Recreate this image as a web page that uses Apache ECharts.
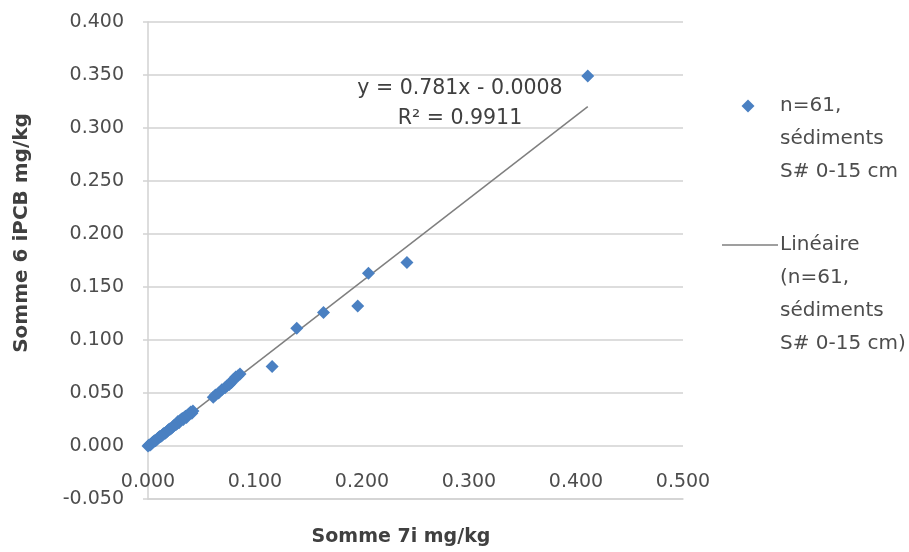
<!DOCTYPE html>
<html>
<head>
<meta charset="utf-8">
<script src="https://cdn.jsdelivr.net/npm/echarts@6/dist/echarts.min.js"></script>
<style>html,body{margin:0;padding:0;background:#fff;}#c{width:909px;height:552px;}</style>
</head>
<body>
<div id="c"></div>
<script>
// Data (Somme 7i mg/kg, Somme 6 iPCB mg/kg)
const xValues = [
  0.000, 0.001, 0.002, 0.003, 0.004, 0.005, 0.006, 0.007, 0.008, 0.009,
  0.010, 0.011, 0.012, 0.013, 0.014, 0.015, 0.016, 0.017, 0.018, 0.019,
  0.020, 0.021, 0.022, 0.023, 0.024, 0.026, 0.027, 0.028, 0.029, 0.030,
  0.031, 0.032, 0.033, 0.034, 0.035, 0.036, 0.037, 0.038, 0.039, 0.040,
  0.041, 0.042,
  0.061, 0.063, 0.066, 0.069, 0.072, 0.074, 0.076, 0.078, 0.080, 0.082,
  0.084, 0.086,
  0.116, 0.139, 0.164, 0.196, 0.206, 0.242, 0.411
];
const yValues = [
  0.000, 0.001, 0.001, 0.002, 0.003, 0.004, 0.005, 0.005, 0.006, 0.007,
  0.008, 0.009, 0.009, 0.010, 0.011, 0.012, 0.012, 0.013, 0.014, 0.015,
  0.016, 0.016, 0.017, 0.018, 0.019, 0.020, 0.021, 0.023, 0.022, 0.024,
  0.025, 0.026, 0.025, 0.027, 0.028, 0.027, 0.029, 0.030, 0.031, 0.032,
  0.031, 0.033,
  0.046, 0.048, 0.050, 0.053, 0.055, 0.057, 0.058, 0.060, 0.063, 0.065,
  0.066, 0.068,
  0.075, 0.111, 0.126, 0.132, 0.163, 0.173, 0.349
];
const seriesName = "n=61,\nsédiments\nS# 0-15 cm";
const trendName = "Linéaire\n(n=61,\nsédiments\nS# 0-15 cm)";
const trendSlope = 0.781;
const trendIntercept = -0.0008;
const trendText = ["y = 0.781x - 0.0008", "R² = 0.9911"];
const xTicks = [0.0, 0.1, 0.2, 0.3, 0.4, 0.5];
const yTicks = [-0.05, 0.0, 0.05, 0.1, 0.15, 0.2, 0.25, 0.3, 0.35, 0.4];
const xTitle = "Somme 7i mg/kg";
const yTitle = "Somme 6 iPCB mg/kg";

const points = xValues.map((x, i) => [x, yValues[i]]);
const xMin = Math.min(...xValues), xMax = Math.max(...xValues);
const trendLine = [[xMin, trendSlope * xMin + trendIntercept], [xMax, trendSlope * xMax + trendIntercept]];

const textColor = '#4d4d4d';
const gridColor = '#d2d2d2';
const font = 'DejaVu Sans';

const chart = echarts.init(document.getElementById('c'), null, {renderer: 'canvas'});
chart.setOption({
  animation: false,
  backgroundColor: '#fff',
  grid: {left: 148, right: 226, top: 22, bottom: 53, containLabel: false},
  xAxis: {
    type: 'value', min: xTicks[0], max: xTicks[xTicks.length - 1], interval: 0.1,
    axisLine: {show: true, onZero: false, lineStyle: {color: gridColor, width: 1.5}},
    axisTick: {show: false},
    splitLine: {show: false},
    axisLabel: {color: textColor, fontFamily: font, fontSize: 19, margin: -26,
      formatter: v => v.toFixed(3)}
  },
  yAxis: {
    type: 'value', min: yTicks[0], max: yTicks[yTicks.length - 1], interval: 0.05,
    axisLine: {show: true, onZero: false, lineStyle: {color: gridColor, width: 1.5}},
    axisTick: {show: true, length: 5, lineStyle: {color: gridColor, width: 1.5}},
    splitLine: {show: true, lineStyle: {color: gridColor, width: 1.5}},
    axisLabel: {color: textColor, fontFamily: font, fontSize: 19, margin: 24,
      formatter: v => v.toFixed(3)}
  },
  series: [
    {
      name: trendName, type: 'line', data: trendLine, showSymbol: false, z: 2,
      lineStyle: {color: '#7f7f7f', width: 1.5}, silent: true
    },
    {
      name: seriesName, type: 'scatter', data: points, symbol: 'diamond', symbolSize: 13, z: 3,
      itemStyle: {color: '#4a80c2', opacity: 1}
    }
  ],
  graphic: [
    {type: 'text', x: 460, y: 74, style: {text: trendText.join('\n'), align: 'center', verticalAlign: 'top',
      lineHeight: 30, fill: '#404040', font: '20.5px "DejaVu Sans"'}},
    {type: 'text', x: 401, y: 537, style: {text: xTitle, align: 'center', verticalAlign: 'middle',
      fill: '#404040', font: 'bold 19px "DejaVu Sans"'}},
    {type: 'text', x: 22, y: 233, rotation: Math.PI / 2, style: {text: yTitle, align: 'center', verticalAlign: 'middle',
      fill: '#404040', font: 'bold 20px "DejaVu Sans"'}},
    // legend
    {type: 'polygon', shape: {points: [[748, 99.5], [754.5, 106], [748, 112.5], [741.5, 106]]}, style: {fill: '#4a80c2'}},
    {type: 'text', x: 780, y: 89.5, style: {text: seriesName, verticalAlign: 'top', lineHeight: 33,
      fill: textColor, font: '20px "DejaVu Sans"'}},
    {type: 'line', shape: {x1: 722, y1: 245, x2: 778, y2: 245}, style: {stroke: '#7f7f7f', lineWidth: 1.5}},
    {type: 'text', x: 780, y: 228.5, style: {text: trendName, verticalAlign: 'top', lineHeight: 33,
      fill: textColor, font: '20px "DejaVu Sans"'}}
  ]
});
</script>
</body>
</html>
